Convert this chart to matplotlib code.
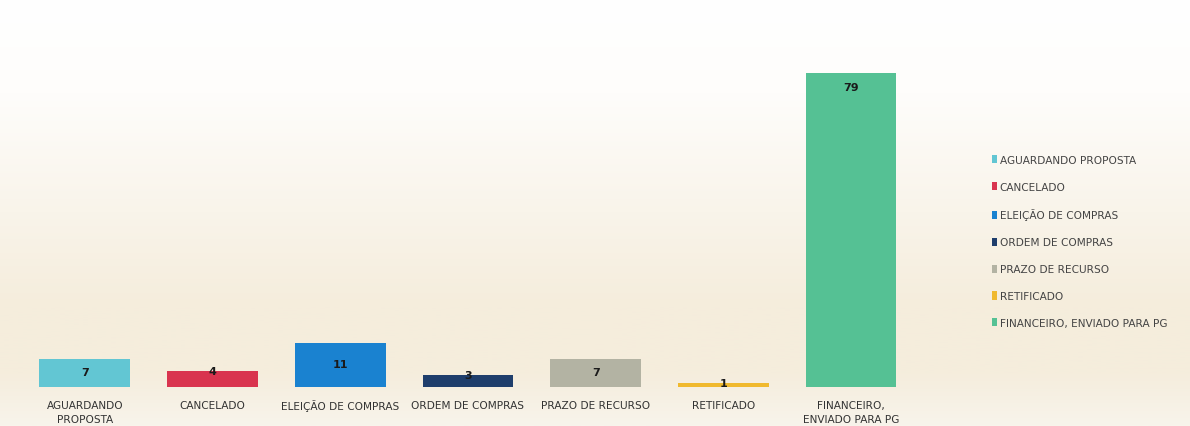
import numpy as np
import matplotlib.pyplot as plt
from matplotlib.colors import LinearSegmentedColormap

categories = ['AGUARDANDO\nPROPOSTA', 'CANCELADO', 'ELEIÇÃO DE COMPRAS', 'ORDEM DE COMPRAS',
              'PRAZO DE RECURSO', 'RETIFICADO', 'FINANCEIRO,\nENVIADO PARA PG']
legend_labels = ['AGUARDANDO PROPOSTA', 'CANCELADO', 'ELEIÇÃO DE COMPRAS', 'ORDEM DE COMPRAS',
                 'PRAZO DE RECURSO', 'RETIFICADO', 'FINANCEIRO, ENVIADO PARA PG']
values = [7, 4, 11, 3, 7, 1, 79]
colors = ['#62c6d3', '#d9344f', '#1a82d0', '#1f3e6c', '#b3b3a3', '#f0b92e', '#55c194']

fig = plt.figure(figsize=(11.9, 4.27), dpi=100)

# background: white at top fading to beige
bg = fig.add_axes([0, 0, 1, 1])
cmap = LinearSegmentedColormap.from_list('bg', [(0.0, '#ffffff'), (0.22, '#fefdfb'),
                                                (0.5, '#f9f4ea'), (0.72, '#f5eddc'),
                                                (0.88, '#f5eddd'), (1.0, '#f8f4eb')])
grad = np.linspace(0, 1, 256).reshape(-1, 1)
bg.imshow(grad, aspect='auto', cmap=cmap, extent=[0, 1, 0, 1], origin='upper')
bg.axis('off')

ax = fig.add_axes([0.0176, 0.0913, 0.7513, 0.768])
ax.patch.set_alpha(0)
x = np.arange(len(values))
bars = ax.bar(x, values, width=0.71, color=colors, label=legend_labels)
ax.set_xlim(-0.5, len(values) - 0.5)
ax.set_ylim(0, 82.5)
for xi, v in zip(x, values):
    if v > 20:
        ypos, va = v - 2.2, 'top'
    elif v >= 7:
        ypos, va = v / 2 + 0.3, 'center'
    else:
        ypos, va = v + 0.1, 'center'
    ax.text(xi, ypos, str(v), ha='center', va=va, fontsize=8, fontweight='bold', color='#1a1a1a')
ax.set_xticks(x)
ax.set_xticklabels(categories, fontsize=7.6, color='#333333', linespacing=1.5)
ax.tick_params(axis='x', length=0, pad=9)
ax.set_yticks([])
for s in ax.spines.values():
    s.set_visible(False)

fig.legend(handles=bars, labels=legend_labels, loc='upper left', bbox_to_anchor=(0.830, 0.645),
           frameon=False, fontsize=7.6, labelcolor='#444444', handlelength=0.5, handleheight=0.8,
           handletextpad=0.25, labelspacing=1.6, borderaxespad=0)

fig.savefig('out.png', dpi=100)
